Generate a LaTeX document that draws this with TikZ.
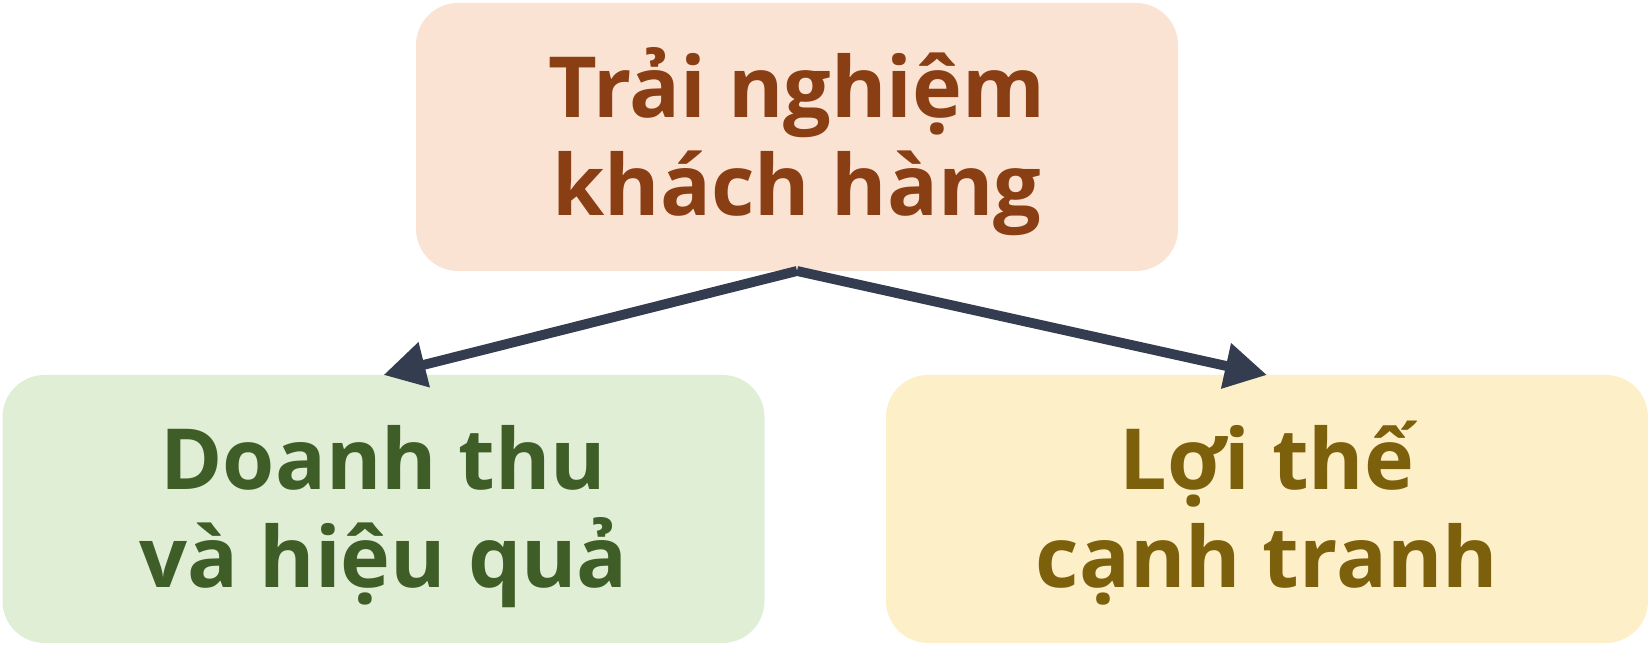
\documentclass[tikz,border=0pt]{standalone}
\usepackage{fontspec}
\setmainfont{Open Sans}
\usepackage{tikz}
\usetikzlibrary{arrows.meta}

\definecolor{expfill}{HTML}{FBE3D4}
\definecolor{exptext}{HTML}{8A3E14}
\definecolor{revfill}{HTML}{E1EED6}
\definecolor{revtext}{HTML}{3F5E27}
\definecolor{advfill}{HTML}{FDF0C8}
\definecolor{advtext}{HTML}{7D600C}
\definecolor{arrowc}{HTML}{343D4F}

\begin{document}
\begin{tikzpicture}[>={Triangle[length=0.42cm,width=0.44cm]},
    box/.style={rounded corners=0.42cm, minimum width=7.62cm, minimum height=2.68cm,
      align=center, outer sep=0pt, inner sep=0pt, text height=1.57cm, text depth=0cm,
      font=\fontsize{24}{28}\selectfont\bfseries}]
    \useasboundingbox (0,0) rectangle (16.48,6.56);
    \node[box, fill=expfill, text=exptext] (exp) at (7.97,5.19) {Trải nghiệm\\khách hàng};
    \node[box, fill=revfill, text=revtext] (rev) at (3.835,1.47) {Doanh thu\\và hiệu quả};
    \node[box, fill=advfill, text=advtext] (adv) at (12.67,1.47) {Lợi thế\\cạnh tranh};
    \path[->, color=arrowc, line width=2.8pt]
    (exp.south)
    edge (rev.north)
    edge (adv.north)
;
  \end{tikzpicture}
\end{document}
